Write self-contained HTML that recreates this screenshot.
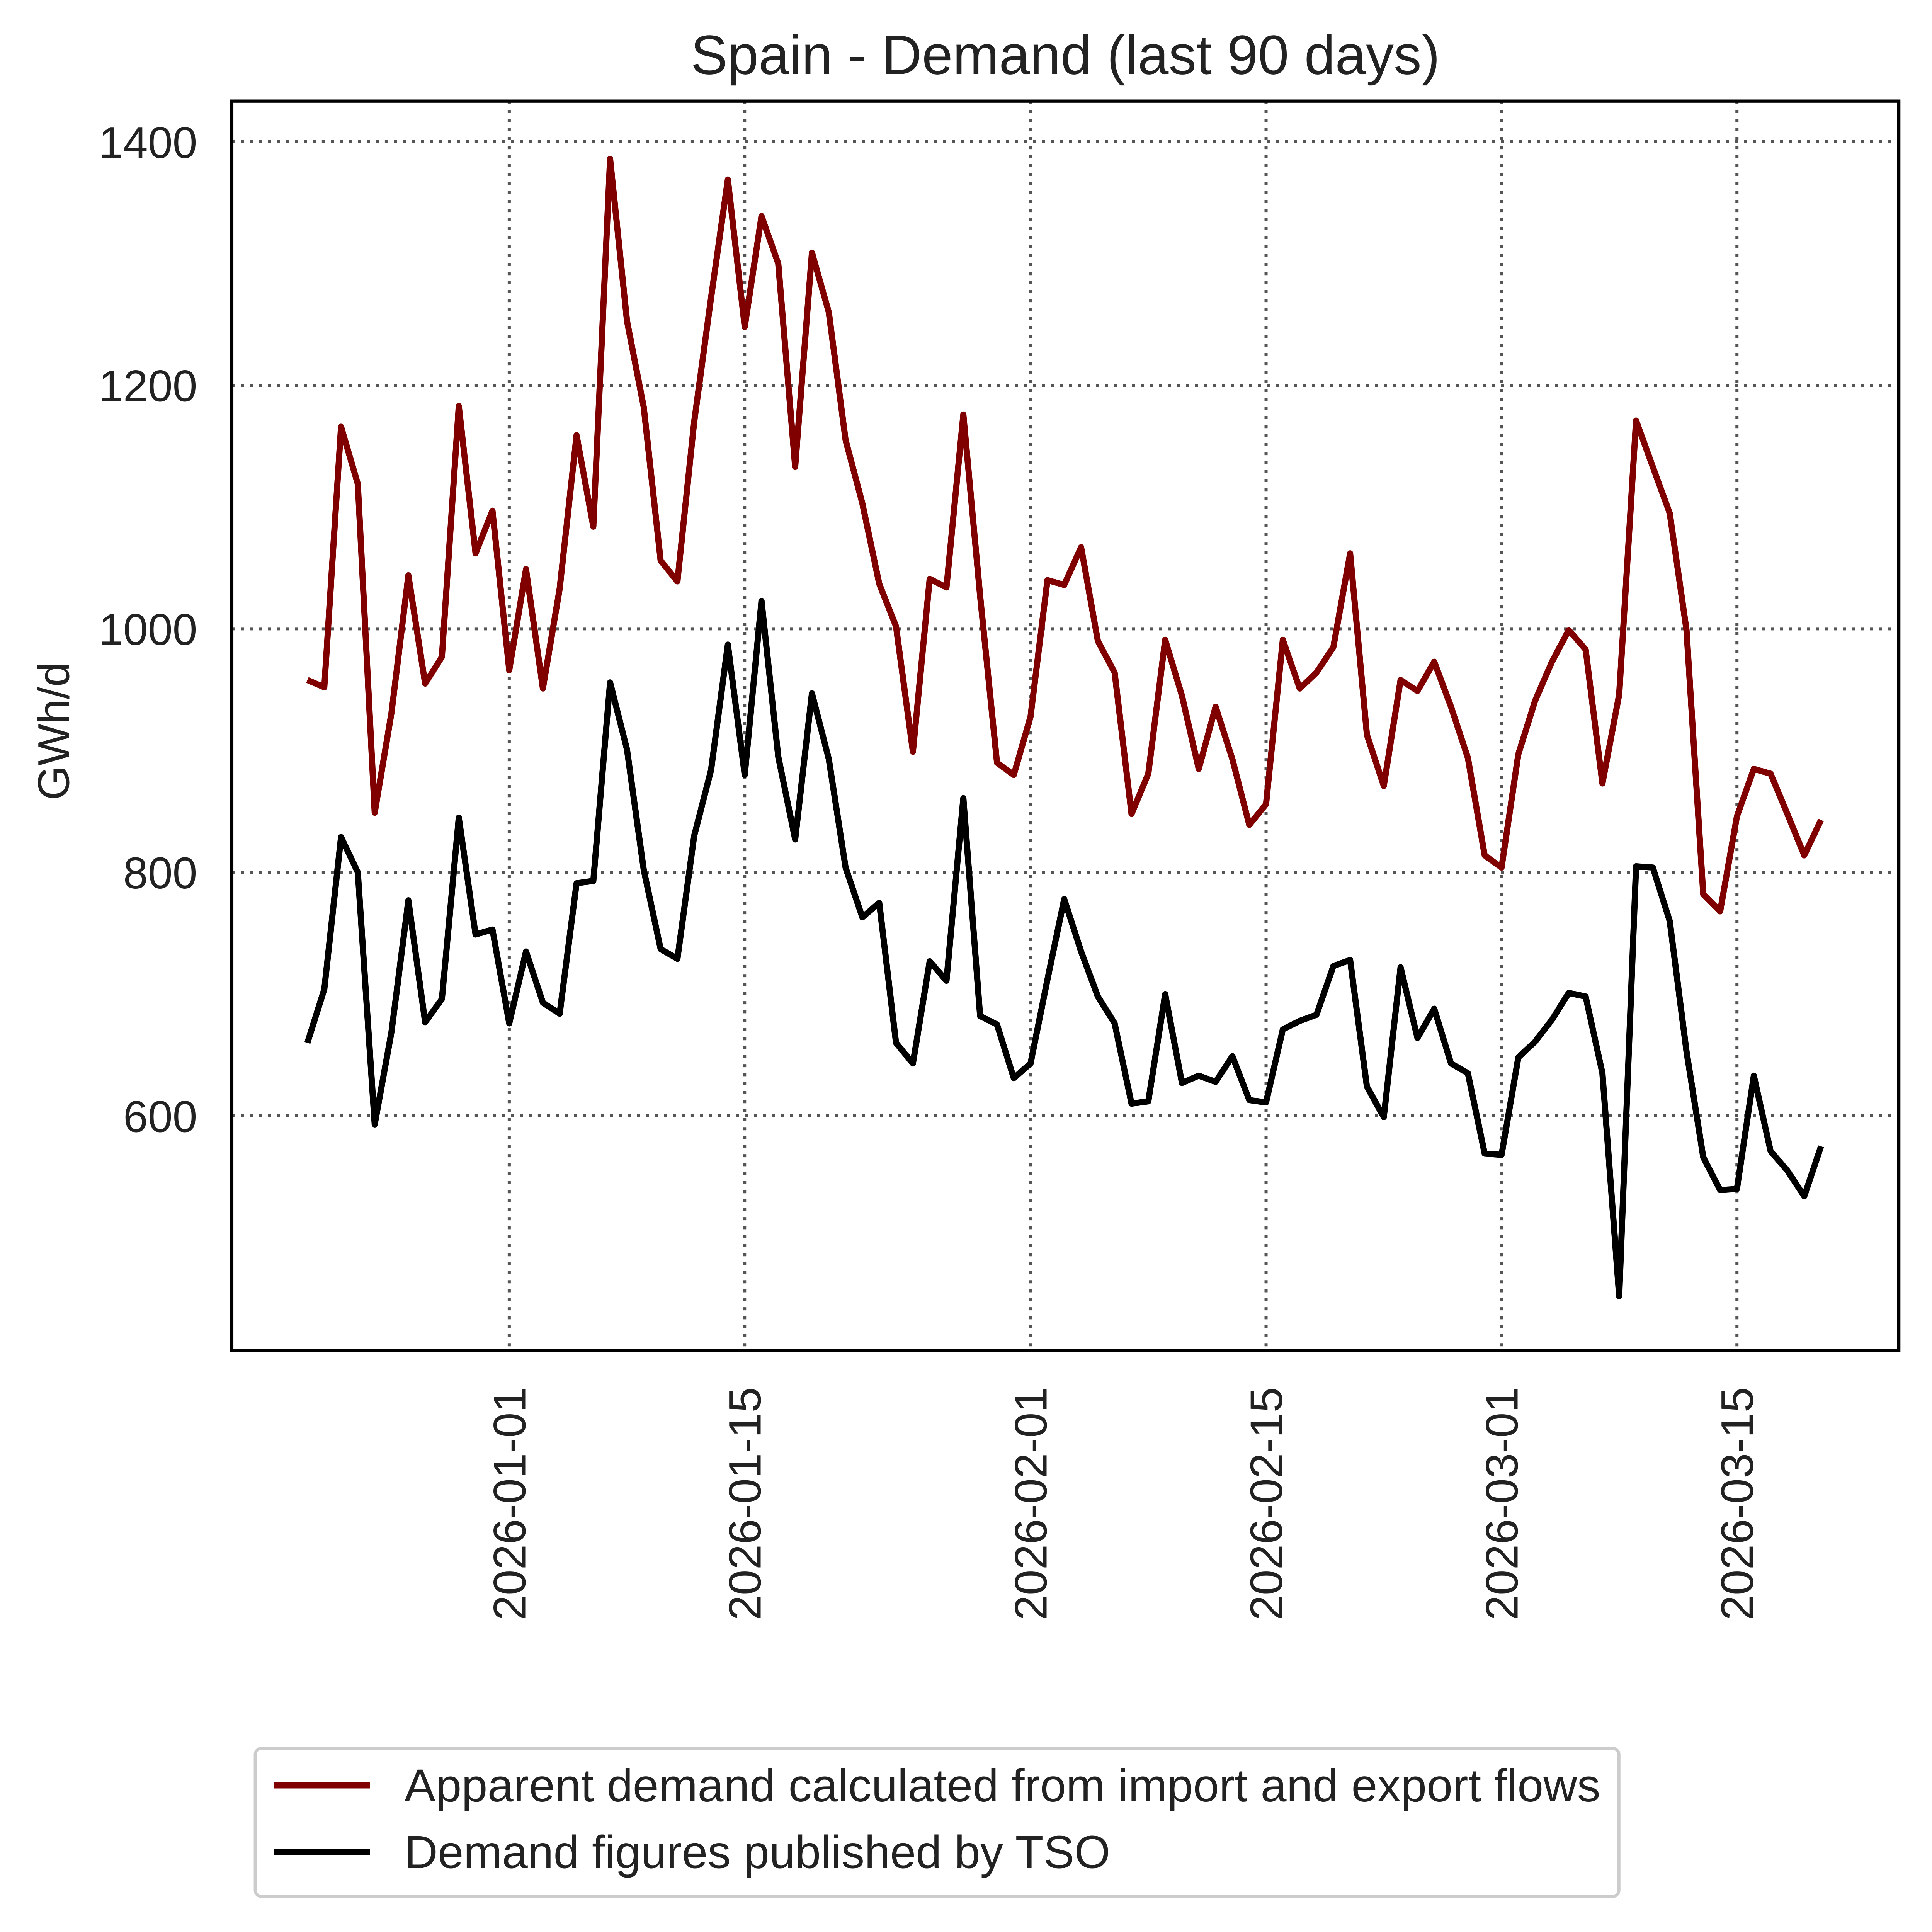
<!DOCTYPE html>
<html><head><meta charset="utf-8"><style>html,body{margin:0;padding:0;background:#fff;overflow:hidden}svg{display:block}</style></head>
<body>
<svg id="chart" width="4978" height="4953" xmlns="http://www.w3.org/2000/svg" font-family="Liberation Sans, Arial, sans-serif" fill="#222">
<g transform="scale(3.191)">
<text x="864" y="60" font-size="45" text-anchor="middle">Spain - Demand (last 90 days)</text>
<g id="grid"></g>
<g id="series"></g>
<rect x="188" y="82" width="1352" height="1013" fill="none" stroke="#000" stroke-width="2.6"/>
<g id="yticks"></g>
<g id="xticks"></g>
<text transform="translate(56,593) rotate(-90)" font-size="36" text-anchor="middle">GWh/d</text>
<g>
<rect x="207" y="1418" width="1106" height="120" rx="5" fill="#fff" stroke="#ccc" stroke-width="2.5"/>
<line x1="222" y1="1448" x2="300" y2="1448" stroke="#800000" stroke-width="5"/>
<text x="328" y="1461" textLength="970" lengthAdjust="spacingAndGlyphs" font-size="37.5">Apparent demand calculated from import and export flows</text>
<line x1="222" y1="1502" x2="300" y2="1502" stroke="#000" stroke-width="5"/>
<text x="328" y="1515" font-size="37.5">Demand figures published by TSO</text>
</g>
</g>
</svg>
<script>
const startDate = "2025-12-20";
const apparent = [958,952,1166,1119,849,931,1044,955,977,1183,1062,1097,966,1049,951,1033,1159,1084,1386,1253,1182,1056,1039,1170,1272,1369,1248,1339,1300,1133,1309,1260,1155,1103,1037,1002,899,1041,1034,1176,1027,890,880,928,1040,1036,1067,990,964,848,881,991,945,885,936,893,839,856,991,951,964,985,1062,913,871,958,949,973,936,894,814,804,897,941,973,999,983,873,946,1171,1133,1095,999,782,768,846,885,881,848,814,843];
const tso = [660,704,829,800,593,669,777,677,696,845,749,753,676,735,693,684,791,793,956,901,802,737,729,830,884,987,880,1023,895,827,947,893,804,763,775,660,643,727,711,861,682,675,631,643,712,778,735,698,676,610,612,700,627,633,628,649,613,611,671,678,683,723,728,624,599,722,664,688,643,635,569,568,648,661,679,701,698,635,452,805,804,760,653,566,539,540,633,571,555,534,575];
const yTicks = [600,800,1000,1200,1400];
const xTickLabels = ["2026-01-01","2026-01-15","2026-02-01","2026-02-15","2026-03-01","2026-03-15"];

const NS="http://www.w3.org/2000/svg";
const dayMs=86400000, t0=Date.parse("2026-01-01");
const startDay=(Date.parse(startDate)-t0)/dayMs;
function xScale(day){return 413+day*13.64;}
function yScale(v){return 115+(1400-v)*0.9875;}
function mk(tag,attrs,parent){const e=document.createElementNS(NS,tag);for(const k in attrs)e.setAttribute(k,attrs[k]);parent.appendChild(e);return e;}
const grid=document.getElementById('grid'), yt=document.getElementById('yticks'), xt=document.getElementById('xticks'), ser=document.getElementById('series');
yTicks.forEach(v=>{
  const y=yScale(v);
  const g=mk('line',{x1:188,x2:1540,y1:y,y2:y,stroke:'#555','stroke-width':2.5,'stroke-dasharray':'2.5,4.8'},grid);
  
  
  const t=mk('text',{x:160,y:y+13,'font-size':36,'text-anchor':'end'},yt);
  t.textContent=v;
  
  
});
xTickLabels.forEach(s=>{
  const x=xScale((Date.parse(s)-t0)/dayMs);
  const g=mk('line',{x1:x,x2:x,y1:82,y2:1095,stroke:'#555','stroke-width':2.5,'stroke-dasharray':'2.5,4.8'},grid);
  
  
  const t=mk('text',{transform:`translate(${x+13},1125) rotate(-90)`,'font-size':37,'text-anchor':'end'},xt);
  t.textContent=s;
  
  
});
function line(arr,color,name){
  const pts=arr.map((v,i)=>xScale(startDay+i).toFixed(1)+','+yScale(v).toFixed(1)).join(' ');
  const p=mk('polyline',{points:pts,fill:'none',stroke:color,'stroke-width':5,'stroke-linejoin':'round'},ser);
  
  
}
line(apparent,'#800000','apparent-demand-line');
line(tso,'#000','tso-demand-line');
</script>
</body></html>
